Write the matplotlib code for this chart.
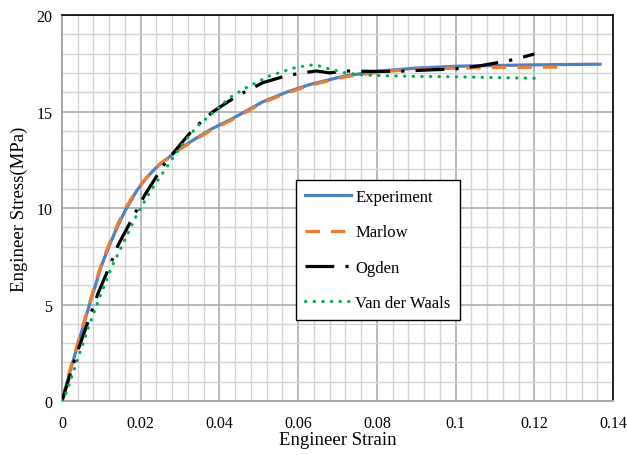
import matplotlib
matplotlib.use("Agg")
import matplotlib.pyplot as plt
from matplotlib.ticker import MultipleLocator

plt.rcParams["font.family"] = ["Liberation Serif", "DejaVu Serif"]

# stress-strain curves (strain, stress in MPa)
exp_strain = [0, 0.002, 0.004, 0.007, 0.010, 0.012, 0.014, 0.016, 0.019, 0.021, 0.023, 0.025,
              0.027, 0.030, 0.034, 0.038, 0.043, 0.047, 0.051, 0.057, 0.063, 0.068, 0.072,
              0.081, 0.090, 0.101, 0.115, 0.125, 0.1367]
exp_stress = [0, 1.5, 2.9, 5.0, 7.0, 8.05, 9.0, 9.85, 10.9, 11.45, 11.9, 12.3,
              12.6, 13.1, 13.6, 14.1, 14.6, 15.05, 15.5, 16.0, 16.4, 16.65, 16.85,
              17.1, 17.25, 17.35, 17.4, 17.43, 17.45]

mar_strain = [0, 0.002, 0.004, 0.007, 0.010, 0.012, 0.014, 0.016, 0.019, 0.021, 0.023, 0.025,
              0.027, 0.030, 0.034, 0.038, 0.043, 0.047, 0.051, 0.057, 0.063, 0.068, 0.072,
              0.081, 0.090, 0.101, 0.112, 0.1258]
mar_stress = [0, 1.6, 3.0, 5.1, 7.1, 8.15, 9.1, 9.95, 10.95, 11.45, 11.9, 12.28,
              12.6, 13.05, 13.55, 14.05, 14.55, 15.0, 15.45, 15.95, 16.35, 16.6, 16.8,
              17.05, 17.2, 17.25, 17.28, 17.3]

ogd_strain = [0, 0.0033, 0.0067, 0.0092, 0.0118, 0.0143, 0.0177, 0.0211, 0.0264, 0.0334,
              0.0384, 0.0444, 0.0511, 0.057, 0.061, 0.0647, 0.068, 0.0715, 0.078, 0.085,
              0.0927, 0.0995, 0.1028, 0.1062, 0.1134, 0.1168, 0.1200]
ogd_stress = [0, 2.2, 4.16, 5.6, 6.84, 8.1, 9.4, 10.7, 12.4, 14.1,
              15.0, 15.8, 16.5, 16.85, 17.0, 17.1, 17.0, 17.1, 17.08, 17.08,
              17.15, 17.2, 17.28, 17.37, 17.63, 17.8, 17.98]

vdw_strain = [0, 0.0008, 0.0037, 0.0067, 0.0097, 0.0126, 0.0156, 0.019, 0.0224, 0.0262,
              0.030, 0.0342, 0.0384, 0.0427, 0.0469, 0.0528, 0.0588, 0.0626, 0.0647, 0.068,
              0.072, 0.0761, 0.081, 0.089, 0.0994, 0.1206]
vdw_stress = [0, 0.28, 2.0, 3.8, 5.46, 6.93, 8.2, 9.65, 10.85, 12.0,
              13.15, 14.2, 14.95, 15.73, 16.25, 16.85, 17.25, 17.4, 17.4, 17.2,
              17.0, 16.9, 16.86, 16.82, 16.8, 16.72]

BLUE = "#4f81bd"; ORANGE = "#ed7d31"; GREEN = "#00b050"
MAJ = "#a6a6a6"; MIN = "#d4d4d4"

fig = plt.figure(figsize=(6.27, 4.56), dpi=100)
ax = fig.add_axes([0.0989, 0.1184, 0.8788, 0.8465])

ax.plot(exp_strain, exp_stress, color=BLUE, lw=2.3, label="Experiment", zorder=3)
ax.plot(mar_strain, mar_stress, color=ORANGE, lw=2.3, dashes=(4.5, 3.5), label="Marlow", zorder=4)
ax.plot(ogd_strain, ogd_stress, color="black", lw=2.3, dashes=(9, 3.5, 1, 3.5), label="Ogden", zorder=5)
ax.plot(vdw_strain, vdw_stress, color=GREEN, lw=2.3, dashes=(0.1, 2.6), dash_capstyle="round",
        label="Van der Waals", zorder=6)

ax.set_xlim(0, 0.14); ax.set_ylim(0, 20)
ax.xaxis.set_major_locator(MultipleLocator(0.02)); ax.xaxis.set_minor_locator(MultipleLocator(0.004))
ax.yaxis.set_major_locator(MultipleLocator(5)); ax.yaxis.set_minor_locator(MultipleLocator(1))
ax.set_xticklabels([f"{v:g}" for v in ax.get_xticks()])
ax.grid(which="minor", color=MIN, lw=1.0, zorder=0)
ax.grid(which="major", color=MAJ, lw=1.1, zorder=1)
ax.set_axisbelow(True)
ax.tick_params(which="both", length=0)
ax.tick_params(axis="x", labelsize=11.5, pad=10)
ax.tick_params(axis="y", labelsize=11.5, pad=7)
for s in ["left", "bottom"]:
    ax.spines[s].set_color(MAJ); ax.spines[s].set_linewidth(1.4)
for s in ["top", "right"]:
    ax.spines[s].set_color("black"); ax.spines[s].set_linewidth(1.2)

ax.set_xlabel("Engineer Strain", fontsize=13.5, labelpad=0)
ax.set_ylabel("Engineer Stress(MPa)", fontsize=13.5, labelpad=6)

leg = ax.legend(loc="upper left", bbox_to_anchor=(0.425, 0.5725), fontsize=12,
                handlelength=2.75, handletextpad=0.25, labelspacing=1.15, borderpad=0.55,
                borderaxespad=0, fancybox=False, framealpha=1, edgecolor="black")
leg.get_frame().set_linewidth(1.0)

fig.savefig("out.png", dpi=100, facecolor="white")
